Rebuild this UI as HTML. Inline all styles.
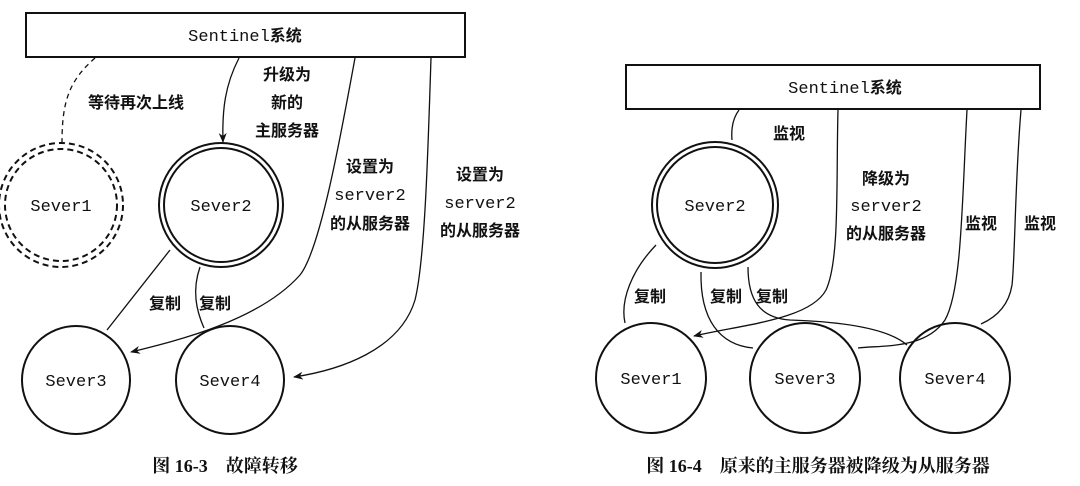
<!DOCTYPE html>
<html><head><meta charset="utf-8"><style>
html,body{margin:0;padding:0;background:#fff;}
svg{display:block;}
.m{font-family:"Liberation Mono",monospace;font-size:17px;fill:#111;}
.c{font-family:"Liberation Sans","Noto Sans CJK SC",sans-serif;font-size:16px;font-weight:bold;fill:#111;}
.cap{font-family:"Liberation Serif","Noto Serif CJK SC",serif;font-size:18px;font-weight:bold;fill:#111;}
</style></head><body>
<svg width="1080" height="486" viewBox="0 0 1080 486" xmlns="http://www.w3.org/2000/svg">
<defs><marker id="a" markerWidth="10" markerHeight="8" refX="9" refY="4" orient="auto" markerUnits="userSpaceOnUse"><path d="M0,0 L10,4 L0,8 L3,4 Z" fill="#111"/></marker></defs>
<g fill="none" stroke="#111" stroke-width="1.3">
<!-- left -->
<rect x="26" y="13" width="439" height="44" stroke-width="2"/>
<circle cx="61" cy="205" r="62" stroke-dasharray="6,4" stroke-width="2"/>
<circle cx="61" cy="205" r="56" stroke-dasharray="6,4" stroke-width="2"/>
<circle cx="221" cy="205" r="62" stroke-width="2"/>
<circle cx="221" cy="205" r="57" stroke-width="2"/>
<circle cx="76" cy="380" r="54" stroke-width="2"/>
<circle cx="230" cy="380" r="54" stroke-width="2"/>
<path d="M95,58 C70,80 62,100 62,142" stroke-dasharray="5,4"/>
<path d="M239,58 C225,85 222,110 223,142" marker-end="url(#a)"/>
<path d="M355,58 C340,140 320,250 300,275 C260,320 180,340 131,352" marker-end="url(#a)"/>
<path d="M431,58 C428,150 425,260 415,300 C400,350 340,370 294,377" marker-end="url(#a)"/>
<path d="M170,250 L107,330"/>
<path d="M200,267 C192,290 196,310 204,328"/>
<!-- right -->
<rect x="626" y="65" width="414" height="44" stroke-width="2"/>
<circle cx="715" cy="205" r="63" stroke-width="2"/>
<circle cx="715" cy="205" r="58" stroke-width="2"/>
<circle cx="651" cy="378" r="55" stroke-width="2"/>
<circle cx="805" cy="378" r="55" stroke-width="2"/>
<circle cx="955" cy="378" r="55" stroke-width="2"/>
<path d="M739,110 C733,118 731,128 732,140"/>
<path d="M838,110 C836,180 840,260 826,290 C810,320 740,325 694,336" marker-end="url(#a)"/>
<path d="M967,110 C962,200 962,290 945,320 C925,350 880,345 858,348"/>
<path d="M1021,110 C1015,180 1015,260 1012,285 C1008,310 990,320 981,324"/>
<path d="M656,245 C632,270 620,300 625,323"/>
<path d="M701,272 C700,320 720,345 753,348"/>
<path d="M748,267 C748,300 760,318 790,320 C850,322 890,330 907,345"/>
</g>
<text class="m" x="245" y="41" text-anchor="middle">Sentinel<tspan class="c">系统</tspan></text>
<text class="c" x="136" y="108" text-anchor="middle">等待再次上线</text>
<text class="c" x="287" y="80" text-anchor="middle">升级为</text>
<text class="c" x="287" y="108" text-anchor="middle">新的</text>
<text class="c" x="287" y="136" text-anchor="middle">主服务器</text>
<text class="c" x="370" y="172" text-anchor="middle">设置为</text>
<text class="m" x="370" y="200" text-anchor="middle">server2</text>
<text class="c" x="370" y="229" text-anchor="middle">的从服务器</text>
<text class="c" x="480" y="180" text-anchor="middle">设置为</text>
<text class="m" x="480" y="208" text-anchor="middle">server2</text>
<text class="c" x="480" y="236" text-anchor="middle">的从服务器</text>
<text class="m" x="61" y="211" text-anchor="middle">Sever1</text>
<text class="m" x="221" y="211" text-anchor="middle">Sever2</text>
<text class="m" x="76" y="386" text-anchor="middle">Sever3</text>
<text class="m" x="230" y="386" text-anchor="middle">Sever4</text>
<text class="c" x="149" y="309">复制</text>
<text class="c" x="199" y="309">复制</text>
<text class="cap" x="225" y="472" text-anchor="middle">图 16-3　故障转移</text>

<text class="m" x="845" y="93" text-anchor="middle">Sentinel<tspan class="c">系统</tspan></text>
<text class="c" x="789" y="139" text-anchor="middle">监视</text>
<text class="c" x="886" y="184" text-anchor="middle">降级为</text>
<text class="m" x="886" y="211" text-anchor="middle">server2</text>
<text class="c" x="886" y="239" text-anchor="middle">的从服务器</text>
<text class="c" x="981" y="229" text-anchor="middle">监视</text>
<text class="c" x="1040" y="229" text-anchor="middle">监视</text>
<text class="m" x="715" y="211" text-anchor="middle">Sever2</text>
<text class="m" x="651" y="384" text-anchor="middle">Sever1</text>
<text class="m" x="805" y="384" text-anchor="middle">Sever3</text>
<text class="m" x="955" y="384" text-anchor="middle">Sever4</text>
<text class="c" x="634" y="302">复制</text>
<text class="c" x="710" y="302">复制</text>
<text class="c" x="756" y="302">复制</text>
<text class="cap" x="818" y="472" text-anchor="middle">图 16-4　原来的主服务器被降级为从服务器</text>
</svg>
</body></html>
